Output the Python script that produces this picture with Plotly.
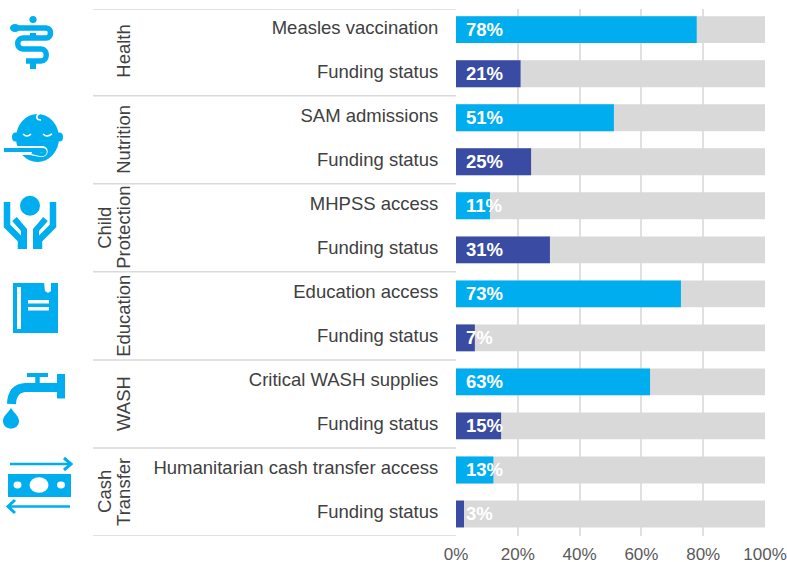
import plotly.graph_objects as go

# ---------- data ----------
groups = ["Health", "Nutrition", "Child<br>Protection", "Education", "WASH", "Cash<br>Transfer"]
categories = [
    "Measles vaccination", "Funding status",
    "SAM admissions", "Funding status",
    "MHPSS access", "Funding status",
    "Education access", "Funding status",
    "Critical WASH supplies", "Funding status",
    "Humanitarian cash transfer access", "Funding status",
]
values = [77.9, 20.9, 51.1, 24.3, 11.0, 30.4, 72.8, 6.1, 62.8, 14.6, 12.1, 2.6]
labels = ["78%", "21%", "51%", "25%", "11%", "31%", "73%", "7%", "63%", "15%", "13%", "3%"]
totals = [100] * 12

BLUE = "#00AEEF"
NAVY = "#3A4BA3"
GREY = "#D9D9D9"
W, H = 787, 562
ML, MR, MT, MB = 456, 22, 9, 26
PW, PH = W - ML - MR, H - MT - MB


def px(x):
    return (x - ML) / PW


def py(y):
    return (H - MB - y) / PH


def path(cmds):
    out = []
    for c in cmds:
        if isinstance(c, str):
            out.append(c)
        else:
            out.append(f"{px(c[0]):.5f},{py(c[1]):.5f}")
    return " ".join(out)


shapes = []


def stroke(cmds, width, color=BLUE):
    shapes.append(dict(type="path", xref="paper", yref="paper", path=path(cmds),
                       line=dict(color=color, width=width), layer="above"))


def fill(cmds, color=BLUE):
    shapes.append(dict(type="path", xref="paper", yref="paper", path=path(cmds),
                       fillcolor=color, line=dict(width=0), layer="above"))


def ellipse(cx, cy, rx, ry, color=BLUE):
    shapes.append(dict(type="circle", xref="paper", yref="paper",
                       x0=px(cx - rx), x1=px(cx + rx), y0=py(cy + ry), y1=py(cy - ry),
                       fillcolor=color, line=dict(width=0), layer="above"))


def rect(x0, y0, x1, y1, color=BLUE):
    shapes.append(dict(type="rect", xref="paper", yref="paper",
                       x0=px(x0), x1=px(x1), y0=py(y1), y1=py(y0),
                       fillcolor=color, line=dict(width=0), layer="above"))


# Health icon
ellipse(33, 19.5, 3.6, 3.6)
stroke(["M", (14, 28), "L", (46, 28), "C", (52, 28), (52, 38), (46, 38), "L", (23, 38),
        "C", (16, 38), (16, 49), (23, 49), "L", (41, 49), "C", (48, 49), (48, 61), (41, 61), "L", (26, 61)], 5.5)
ellipse(15, 28, 5, 4)
stroke(["M", (33, 33), "L", (33, 37)], 6)
stroke(["M", (33, 61), "L", (33, 69)], 6)

# Nutrition icon
ellipse(37.5, 138, 21.5, 24)
ellipse(15.5, 137, 3.5, 4.5)
ellipse(59.5, 137, 3.5, 4.5)
stroke(["M", (23, 134), "Q", (27, 138), (31, 134)], 1.6, "white")
stroke(["M", (43, 134), "Q", (47, 138), (52, 134)], 1.6, "white")
stroke(["M", (40, 113), "C", (35, 116), (36, 120), (41, 120)], 1.6, "white")
fill(["M", (16, 146), "L", (42, 146), "C", (50, 146), (50, 158), (40, 157), "L", (30, 155), "L", (16, 155), "Z"], "white")
stroke(["M", (4, 150), "L", (42, 150), "C", (47, 150), (45, 155), (40, 154), "L", (32, 152)], 4)

# Child protection icon
ellipse(30, 205.7, 10, 10)
for m in (False, True):
    f = (lambda x: 60 - x) if m else (lambda x: x)
    stroke(["M", (f(7), 202), "L", (f(7), 226), "L", (f(21), 240), "L", (f(21), 249)], 6.5)
    stroke(["M", (f(14.5), 219), "L", (f(24), 230), "L", (f(24), 249)], 6)
    stroke(["M", (f(12), 223), "L", (f(20), 231)], 1.2, "white")

# Education icon
rect(13, 283, 58, 333)
rect(17, 287, 21, 329, "white")
rect(28, 300, 49, 303.5, "white")
rect(28, 307, 49, 310.5, "white")
fill(["M", (44, 282), "L", (45, 291), "L", (48, 293), "L", (51, 291), "L", (51, 282), "Z"], "white")

# WASH icon
stroke(["M", (27, 375), "L", (48, 375)], 4)
stroke(["M", (37.5, 375), "L", (37.5, 385)], 4.5)
rect(57, 374, 65, 398.5)
stroke(["M", (58, 387.5), "L", (26, 387.5), "Q", (12, 388), (11.5, 404)], 9)
fill(["M", (11, 408), "C", (14, 413), (19, 416), (19, 421), "C", (19, 431), (3, 431), (3, 421),
      "C", (3, 416), (8, 413), (11, 408), "Z"])

# Cash icon
rect(8, 474, 71, 497)
ellipse(39, 485, 9.5, 7.8, "white")
ellipse(17.5, 485, 4, 3.4, "white")
ellipse(61, 485, 4, 3.4, "white")
stroke(["M", (10, 464), "L", (70, 464)], 2.5)
stroke(["M", (64, 458), "L", (71, 464), "L", (64, 470)], 3)
stroke(["M", (9, 506.5), "L", (70, 506.5)], 2.5)
stroke(["M", (15, 500), "L", (8, 506.5), "L", (15, 513)], 3)

# Group dividers
for i in range(7):
    yv = -0.47 if i == 0 else 2 * i - 0.5
    shapes.append(dict(type="line", xref="paper", yref="y", x0=px(93), x1=0, y0=yv, y1=yv,
                       line=dict(color=GREY, width=1.5), layer="below"))

rows = list(range(len(categories)))
bar_colors = [BLUE if i % 2 == 0 else NAVY for i in rows]

fig = go.Figure()
fig.add_bar(y=rows, x=totals, orientation="h", width=0.61, marker=dict(color=GREY, line=dict(width=0)),
            hoverinfo="skip", showlegend=False)
fig.add_bar(y=rows, x=values, orientation="h", width=0.61, marker=dict(color=bar_colors, line=dict(width=0)),
            showlegend=False)

annotations = []
for r, t in zip(rows, labels):
    annotations.append(dict(x=0, y=r, xref="x", yref="y", text=f"<b>{t}</b>", showarrow=False,
                            xanchor="left", yanchor="middle", xshift=8, yshift=0,
                            font=dict(family="Liberation Sans", size=18.5, color="white")))
for i, g in enumerate(groups):
    parts = g.split("<br>")
    xs = [124] if len(parts) == 1 else [105, 124]
    for part, xp in zip(parts, xs):
        annotations.append(dict(x=px(xp), y=2 * i + 0.5, xref="paper", yref="y", text=part, showarrow=False,
                                textangle=-90, xanchor="center", yanchor="middle", align="center",
                                font=dict(family="Liberation Sans", size=18.5, color="#404040")))

fig.update_layout(
    width=W, height=H, barmode="overlay", bargap=0.39,
    margin=dict(l=ML, r=MR, t=MT, b=MB, pad=0),
    paper_bgcolor="white", plot_bgcolor="white",
    font=dict(family="Liberation Sans", size=18, color="#595959"),
    shapes=shapes, annotations=annotations,
    xaxis=dict(range=[0, 100], tickvals=[0, 20, 40, 60, 80, 100],
               ticktext=["0%", "20%", "40%", "60%", "80%", "100%"],
               showgrid=True, gridcolor="#E0E0E0", gridwidth=1.5, zeroline=False,
               ticks="outside", ticklen=3, tickcolor="rgba(0,0,0,0)", showline=False,
               tickfont=dict(size=17, color="#595959"), automargin=False),
    yaxis=dict(range=[11.5, -0.47], tickmode="array", tickvals=rows, ticktext=categories,
               ticks="outside", ticklen=13, tickcolor="rgba(0,0,0,0)", showgrid=False, zeroline=False,
               showline=False, ticklabelshift=2, tickfont=dict(size=18.5, color="#404040"), automargin=False),
)
fig.write_html("out.html", config=dict(displayModeBar=False),
               post_script="document.body.style.margin='0';document.documentElement.style.overflow='hidden';")
